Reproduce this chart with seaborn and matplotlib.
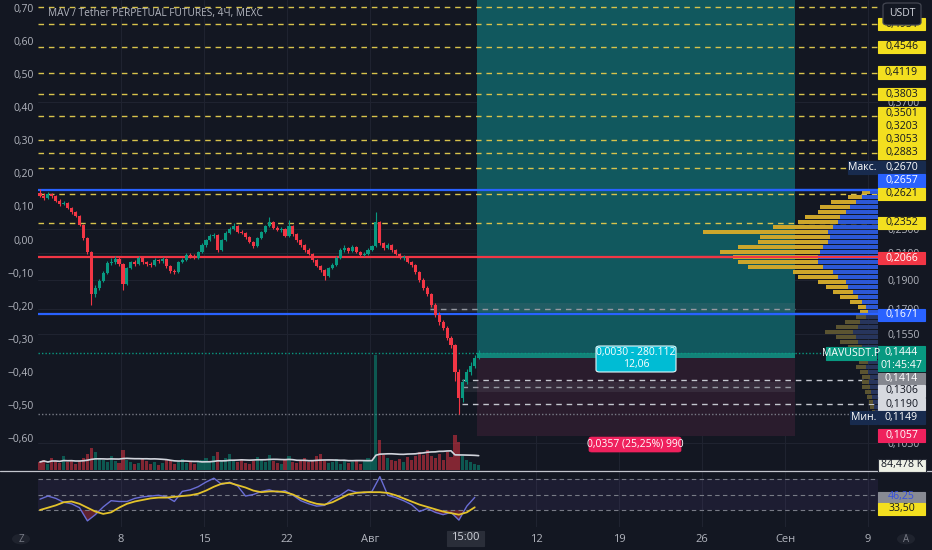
import numpy as np
import pandas as pd
import matplotlib
matplotlib.use("Agg")
import matplotlib.pyplot as plt
from matplotlib.patches import Rectangle, FancyBboxPatch, Circle
from matplotlib.lines import Line2D
import seaborn as sns

# ---------------- data (8h candles, MAV/USDT perpetual) ----------------
first_open = 0.2630
candle_close = [0.2598,0.2579,0.2618,0.2598,0.2550,0.2521,0.2531,0.2484,0.2447,0.2411,
 0.2331,0.2220,0.2106,0.1800,0.1841,0.1890,0.1947,0.2022,0.2029,0.2052,
 0.2014,0.1869,0.1984,0.2029,0.2014,0.2060,0.2029,0.2014,0.2007,0.2044,
 0.2037,0.2052,0.1999,0.1962,0.1955,0.2029,0.2044,0.2083,0.2075,0.2060,
 0.2106,0.2162,0.2203,0.2237,0.2245,0.2122,0.2203,0.2262,0.2296,0.2322,
 0.2270,0.2262,0.2228,0.2187,0.2154,0.2220,0.2270,0.2322,0.2357,0.2305,
 0.2287,0.2300,0.2237,0.2322,0.2253,0.2203,0.2162,0.2122,0.2091,0.2044,
 0.1999,0.1969,0.1926,0.1984,0.2007,0.2060,0.2122,0.2138,0.2114,0.2146,
 0.2106,0.2083,0.2091,0.2122,0.2154,0.2357,0.2178,0.2138,0.2162,0.2122,
 0.2091,0.2060,0.2068,0.2029,0.2007,0.1955,0.1897,0.1841,0.1800,0.1727,
 0.1664,0.1621,0.1585,0.1527,0.1487,0.1344,0.1219,0.1295,0.1344,0.1375,
 0.1417,0.1444]
candle_high = [0.2670,0.2625,0.2640,0.2632,0.2610,0.2565,0.2548,0.2540,0.2495,0.2460,
 0.2420,0.2340,0.2232,0.2115,0.1862,0.1905,0.1960,0.2035,0.2060,0.2075,
 0.2065,0.2025,0.1995,0.2040,0.2045,0.2075,0.2068,0.2040,0.2030,0.2060,
 0.2055,0.2070,0.2060,0.2008,0.1975,0.2040,0.2060,0.2095,0.2100,0.2090,
 0.2115,0.2175,0.2215,0.2250,0.2260,0.2252,0.2212,0.2275,0.2310,0.2345,
 0.2330,0.2285,0.2270,0.2238,0.2195,0.2230,0.2282,0.2335,0.2398,0.2365,
 0.2318,0.2310,0.2308,0.2375,0.2330,0.2262,0.2215,0.2170,0.2135,0.2100,
 0.2055,0.2010,0.1980,0.1995,0.2020,0.2072,0.2135,0.2160,0.2150,0.2165,
 0.2155,0.2115,0.2105,0.2135,0.2165,0.2447,0.2365,0.2190,0.2175,0.2170,
 0.2130,0.2100,0.2080,0.2075,0.2040,0.2015,0.1965,0.1910,0.1855,0.1810,
 0.1740,0.1680,0.1635,0.1598,0.1540,0.1495,0.1360,0.1310,0.1360,0.1395,
 0.1430,0.1460]
candle_low = [0.2585,0.2560,0.2570,0.2580,0.2540,0.2505,0.2508,0.2470,0.2432,0.2400,
 0.2320,0.2205,0.2090,0.1727,0.1780,0.1830,0.1880,0.1940,0.2005,0.2015,
 0.2000,0.1827,0.1860,0.1975,0.2000,0.2005,0.2015,0.2000,0.1990,0.1998,
 0.2020,0.2025,0.1985,0.1950,0.1940,0.1948,0.2020,0.2035,0.2060,0.2050,
 0.2050,0.2098,0.2150,0.2195,0.2220,0.2110,0.2115,0.2195,0.2255,0.2285,
 0.2258,0.2250,0.2215,0.2175,0.2140,0.2148,0.2212,0.2262,0.2310,0.2295,
 0.2275,0.2270,0.2225,0.2230,0.2240,0.2190,0.2150,0.2110,0.2080,0.2030,
 0.1988,0.1955,0.1897,0.1918,0.1975,0.2000,0.2052,0.2110,0.2100,0.2105,
 0.2095,0.2070,0.2072,0.2085,0.2115,0.2145,0.2165,0.2125,0.2128,0.2110,
 0.2080,0.2050,0.2045,0.2018,0.1995,0.1940,0.1885,0.1830,0.1785,0.1715,
 0.1650,0.1605,0.1570,0.1515,0.1470,0.1300,0.1149,0.1200,0.1285,0.1330,
 0.1365,0.1410]
volume_k = [136,170,102,204,153,119,238,136,170,102,153,204,272,374,
 306,204,170,136,238,153,119,340,
 170,136,102,119,204,153,102,136,85,119,170,153,102,136,187,119,153,102,136,
 170,204,153,238,306,170,204,272,153,136,187,119,102,153,221,170,136,255,153,119,
 102,170,238,136,119,153,204,136,170,238,272,153,119,136,187,102,153,119,136,170,102,153,204,170,
 1955,510,
 255,204,170,153,187,136,221,170,238,
 306,255,340,238,204,272,170,306,221,
 595,476,238,170,136,102,84.478]
rsi_values = [44,48,45,40,38,33,16,24,34,42,41,41,45,47,48,49,47,41,54,56,
 60,66,71,63,66,61,48,50,54,56,53,55,49,42,38,35,36,44,49,56,
 53,52,54,73,49,46,42,37,28,32,27,24,27,17,35,46.25]
rsi_ma_values = [30,33,36,40,41,38,33,28,25,27,33,38,41,43,45,46,46,47,48,49,
 51,55,60,64,65,62,59,55,53,54,54,53,50,45,41,38,37,40,45,50,
 52,53,53,53,52,49,45,41,37,34,31,28,26,24,27,33.5]
# visible-range volume profile rows (bottom -> top), arbitrary units
vp_down = [3,4,5,6,7,8,9,8,10,12,10,12,14,16,20,22,25,20,18,12,
 10,12,16,20,25,30,32,40,45,55,60,60,58,55,50,48,50,45,40,38,32,28,22,16,8]
vp_up = [3,4,4,5,6,8,7,8,8,10,9,10,12,14,18,20,28,22,15,10,
 8,8,12,18,20,22,28,40,40,75,80,85,100,85,70,70,125,60,40,35,28,30,25,14,8]
yellow_levels = [0.5272,0.4951,0.4546,0.4119,0.3803,0.3501,0.3203,0.3053,0.2883,0.2621,0.2352]
blue_levels = [0.2657, 0.1671]
red_level = 0.2066
entry_price, stop_price, last_price = 0.1414, 0.1057, 0.1444
low_price, high_price = 0.1149, 0.2670
right_ticks = [0.3700, 0.2300, 0.2100, 0.1900, 0.1700, 0.1550, 0.1030]
left_ticks = [0.7,0.6,0.5,0.4,0.3,0.2,0.1,0.0,-0.1,-0.2,-0.3,-0.4,-0.5,-0.6]
week_days = [7,14,21,28,42,49,56,63,70]
week_labels = ['8','15','22','Авг','12','19','26','Сен','9']

# ---------------- style ----------------
BG = '#131722'; TXT = '#b2b5be'; GRID = '#1f2330'
sns.set_theme(style='dark', rc={'axes.facecolor': BG, 'figure.facecolor': BG,
                                'text.color': TXT, 'xtick.color': TXT, 'ytick.color': TXT,
                                'axes.edgecolor': BG})
plt.rcParams['font.family'] = ['Open Sans', 'DejaVu Sans']

W, H = 932, 550
fig = plt.figure(figsize=(W/100, H/100), dpi=100, facecolor=BG)
def fx(p): return p / W
def fy(p): return 1 - p / H
def axes_px(x0, y0, x1, y1, **kw):
    return fig.add_axes([fx(x0), fy(y1), (x1-x0)/W, (y1-y0)/H], **kw)

PXDAY = 83/7.0
XMAX = (878-38)/PXDAY
def day(px): return (px-38)/PXDAY

n = len(candle_close)
cday = (np.arange(n) + 0.5) * 8/24
c = np.array(candle_close); hgh = np.array(candle_high); low = np.array(candle_low)
o = np.r_[first_open, c[:-1]]
up = c >= o
GREEN, RED = '#089981', '#f23645'
ccol = np.where(up, GREEN, RED)

# ---------------- main price pane ----------------
ax = axes_px(38, 0, 878, 470)
ax.set_yscale('log')
ax.set_xlim(0, XMAX)
ax.set_ylim(0.093107, 0.54131)
for s in ax.spines.values(): s.set_visible(False)

ax_l = ax.twinx()
ax_l.set_ylim(-0.6967, 0.7242)
ax_l.set_yticks(left_ticks, [('{:.2f}'.format(t)).replace('.', ',').replace('-', '−') for t in left_ticks])
ax_l.yaxis.tick_left()
ax_l.yaxis.set_label_position('left')
ax_l.tick_params(axis='y', length=0, pad=3, labelsize=7.5, labelcolor=TXT,
                 left=True, labelleft=True, right=False, labelright=False)
ax_l.grid(False)
for s in ax_l.spines.values(): s.set_visible(False)

ax.set_yticks(right_ticks, ['{:.4f}'.format(t).replace('.', ',') for t in right_ticks])
ax.yaxis.set_minor_locator(matplotlib.ticker.NullLocator())
ax.yaxis.tick_right()
ax.tick_params(axis='y', length=0, pad=7, labelsize=7.5, labelcolor=TXT,
               left=False, labelleft=False, right=True, labelright=True)
ax.set_xticks(week_days)
ax.tick_params(axis='x', length=0, labelbottom=False)
ax.grid(True, color=GRID, lw=0.8)
ax.set_axisbelow(True)

# position tool
px0, px1 = day(477), day(795)
ax.fill_between([px0, px1], entry_price, 0.7, color='#11585e', lw=0, zorder=0.6)
ax.fill_between([px0, px1], stop_price, entry_price, color='#2a1c2d', lw=0, zorder=0.6)
ax.fill_between([px0, px1], entry_price, last_price, color='#138379', lw=0, zorder=0.7)
# zones
ax.fill_between([day(430), px1], 0.1685, 0.1740, color='#787b86', alpha=0.16, lw=0, zorder=0.8)
ax.hlines(0.1700, day(430), px1, color='#9598a1', lw=1, ls=(0, (4, 3.5)), zorder=1)
ax.fill_between([day(462), px1], 0.1247, 0.1294, color='#787b86', alpha=0.16, lw=0, zorder=0.8)
ax.hlines(0.1270, day(462), px1, color='#9598a1', lw=1, ls=(0, (4, 3.5)), zorder=1)
ax.hlines([0.1306, 0.1190], day(462), XMAX, color='#c3c6ce', lw=1, ls=(0, (4, 3.5)), zorder=1)

for p in yellow_levels:
    ax.axhline(p, color='#d8c34c', lw=1, ls=(0, (4, 3.5)), zorder=1)
for p in blue_levels:
    ax.axhline(p, color='#2962ff', lw=1.6, zorder=2)
ax.axhline(red_level, color=RED, lw=1.6, zorder=2)
ax.axhline(last_price, color=GREEN, lw=1, ls=(0, (1, 1.5)), zorder=1)
ax.axhline(low_price, color='#787b86', lw=1, ls=(0, (1, 1.5)), zorder=1)

# candles
ax.vlines(cday, low, hgh, color=ccol, lw=0.8, zorder=3)
ax.bar(cday, np.maximum(np.abs(c - o), 0.0004), bottom=np.minimum(o, c), width=0.26,
       color=ccol, lw=0, zorder=4)

# ---------------- volume profile ----------------
vp = axes_px(690, 0, 878, 470, sharey=ax)
vp.set_xlim(188, 0)
vp.set_axis_off()
edges = np.geomspace(low_price, high_price, len(vp_down) + 1)
lo_e, hi_e = edges[:-1], edges[1:]
ctr = np.sqrt(lo_e * hi_e)
in_va = (ctr >= 0.1671) & (ctr <= 0.2657)
bcol = np.where(in_va, '#2c58d6', '#27355c')
ycol = np.where(in_va, '#cda62b', '#5b5431')
vp.barh(lo_e, vp_down, height=(hi_e - lo_e) * 0.72, left=0, align='edge', color=bcol, lw=0)
vp.barh(lo_e, vp_up, height=(hi_e - lo_e) * 0.72, left=vp_down, align='edge', color=ycol, lw=0)
for p in blue_levels:
    vp.axhline(p, color='#2962ff', lw=1.6)
vp.axhline(red_level, color=RED, lw=1.6)

# ---------------- volume ----------------
vol = axes_px(38, 350, 878, 470, sharex=ax)
vol.set_axis_off()
vol.set_ylim(0, 2040)
vol.bar(cday, volume_k, width=0.26, color=ccol, alpha=0.5, lw=0)
vol_ma = pd.Series(volume_k).rolling(20, min_periods=1).mean()
sns.lineplot(x=cday, y=vol_ma.values, ax=vol, color='#d1d4dc', lw=1.2, legend=False)

# ---------------- RSI ----------------
rsi = axes_px(38, 471, 878, 527, sharex=ax)
rsi.set_ylim(8.1, 80.3)
for s in rsi.spines.values(): s.set_visible(False)
rsi.set_yticks([])
rsi.set_xticks(week_days, week_labels)
rsi.tick_params(axis='x', length=0, pad=5, labelsize=8, labelcolor=TXT)
rsi.grid(True, axis='x', color=GRID, lw=0.8)
rsi.grid(False, axis='y')
rsi.axhspan(30, 70, color='#7e57c2', alpha=0.1, lw=0)
for lv in (70, 50, 30):
    rsi.axhline(lv, color='#787b86', lw=0.8, ls=(0, (4, 3)))
rday = (np.arange(len(rsi_values)) * 2 + 0.5) * 8/24
rv = np.array(rsi_values, dtype=float)
rsi.fill_between(rday, rv, 30, where=rv < 30, interpolate=True, color=RED, alpha=0.35, lw=0)
rsi.fill_between(rday, rv, 70, where=rv > 70, interpolate=True, color=GREEN, alpha=0.35, lw=0)
sns.lineplot(x=rday, y=rv, ax=rsi, color='#6a6ed6', lw=1, legend=False)
sns.lineplot(x=rday, y=rsi_ma_values, ax=rsi, color='#e3c22b', lw=1.3, legend=False)
rsi.set_ylabel(''); vol.set_ylabel('')

# pane separator
fig.add_artist(Line2D([0, 1], [fy(470.5)] * 2, color='#c3c6ce', lw=0.9, transform=fig.transFigure))

# ---------------- labels ----------------
def box(x0, x1, yc, h, face, txt, tc, edge=None, fs=7.6, z=5):
    fig.add_artist(Rectangle((fx(x0), fy(yc + h/2)), (x1-x0)/W, h/H, transform=fig.transFigure,
                             facecolor=face, edgecolor=edge if edge else face, lw=0.8, zorder=z))
    if txt:
        fig.text(fx((x0+x1)/2), fy(yc), txt, color=tc, fontsize=fs, ha='center', va='center', zorder=z+0.5)

Y = '#f3df1f'; DK = '#131722'; WH = '#ffffff'; NAVY = '#182b4e'; BLUE = '#2962ff'
labels = [
    (878, 925, 24, 12, Y, '0,4951', DK),
    (878, 925, 47, 12, Y, '0,4546', DK),
    (878, 925, 72.5, 12, Y, '0,4119', DK),
    (878, 925, 94, 12, Y, '0,3803', DK),
    (878, 925, 113.5, 13, Y, '0,3501', DK),
    (878, 925, 126.5, 13, Y, '0,3203', DK),
    (878, 925, 139.5, 13, Y, '0,3053', DK),
    (878, 925, 152.5, 13, Y, '0,2883', DK),
    (848, 877, 167.5, 12, NAVY, 'Макс.', WH),
    (878, 925, 167.5, 12, NAVY, '0,2670', WH),
    (878, 925, 180.5, 12, BLUE, '0,2657', WH),
    (878, 925, 193.5, 12, Y, '0,2621', DK),
    (878, 925, 222.5, 12, Y, '0,2352', DK),
    (878, 925, 258, 12, RED, '0,2066', WH),
    (878, 925, 315, 12, BLUE, '0,1671', WH),
    (826, 876, 353.5, 13, GREEN, 'MAVUSDT.P', WH),
    (878, 925, 378, 11, '#84878f', '0,1414', WH),
    (878, 925, 391, 12, '#d6d9df', '0,1306', DK),
    (878, 925, 404, 12, '#d6d9df', '0,1190', DK),
    (850, 877, 417.5, 13, NAVY, 'Мин.', WH),
    (878, 925, 417.5, 13, NAVY, '0,1149', WH),
    (878, 925, 435.5, 13, '#ef215d', '0,1057', WH),
    (878, 925, 497, 11, '#878a93', '46,25', '#3550e0'),
    (878, 925, 509, 12, Y, '33,50', DK),
]
for lb in labels:
    box(*lb)
box(878, 926, 465, 13, '#eef1e6', '84,478 K', DK, edge='#2a2e39')
box(878, 925, 358.5, 25, GREEN, None, WH)
fig.text(fx(901.5), fy(353), '0,1444', color=WH, fontsize=7.6, ha='center', va='center', zorder=6)
fig.text(fx(901.5), fy(365), '01:45:47', color=WH, fontsize=7.6, ha='center', va='center', zorder=6)

# USDT button (covers the top label)
fig.add_artist(FancyBboxPatch((fx(883), fy(25)), 38/W, 22/H, boxstyle='round,pad=0,rounding_size=0.005',
                              transform=fig.transFigure, facecolor=BG, edgecolor='#434651', lw=0.9, zorder=8))
fig.text(fx(902), fy(14), 'USDT', color='#d1d4dc', fontsize=7.5, ha='center', va='center', zorder=9)

# position tool labels
fig.add_artist(FancyBboxPatch((fx(596), fy(372)), 80/W, 26/H, boxstyle='round,pad=0,rounding_size=0.004',
                              transform=fig.transFigure, facecolor='#00bcd4', edgecolor='#e0f7fa', lw=0.8, zorder=7))
fig.text(fx(636), fy(353), '0,0030 - 280.112', color=WH, fontsize=7.5, ha='center', va='center', zorder=8)
fig.text(fx(636), fy(365), '12,06', color=WH, fontsize=7.5, ha='center', va='center', zorder=8)
fig.add_artist(FancyBboxPatch((fx(589), fy(452)), 92/W, 15/H, boxstyle='round,pad=0,rounding_size=0.003',
                              transform=fig.transFigure, facecolor='#ef215d', edgecolor='#ef215d', lw=0.5, zorder=7))
fig.text(fx(635), fy(444.5), '0,0357 (25,25%) 990', color=WH, fontsize=7.5, ha='center', va='center', zorder=8)

# title
fig.text(fx(48), fy(13.5), 'MAV / Tether PERPETUAL FUTURES, 4Ч, MEXC', color=TXT, fontsize=7.3,
         ha='left', va='center', zorder=6)

# time label
box(447, 484, 538, 15, '#2a2e39', '15:00', '#d1d4dc', fs=8)

# corner buttons
for cx in (21, 906):
    fig.add_artist(Circle((fx(cx), fy(539)), 9/W, transform=fig.transFigure, facecolor='#1f232e',
                          edgecolor='none', zorder=5))
fig.text(fx(21), fy(539), 'Z', color='#787b86', fontsize=7, ha='center', va='center', zorder=6)
fig.text(fx(906), fy(539), 'A', color='#787b86', fontsize=7, ha='center', va='center', zorder=6)

fig.savefig('out.png', dpi=100, facecolor=BG)
